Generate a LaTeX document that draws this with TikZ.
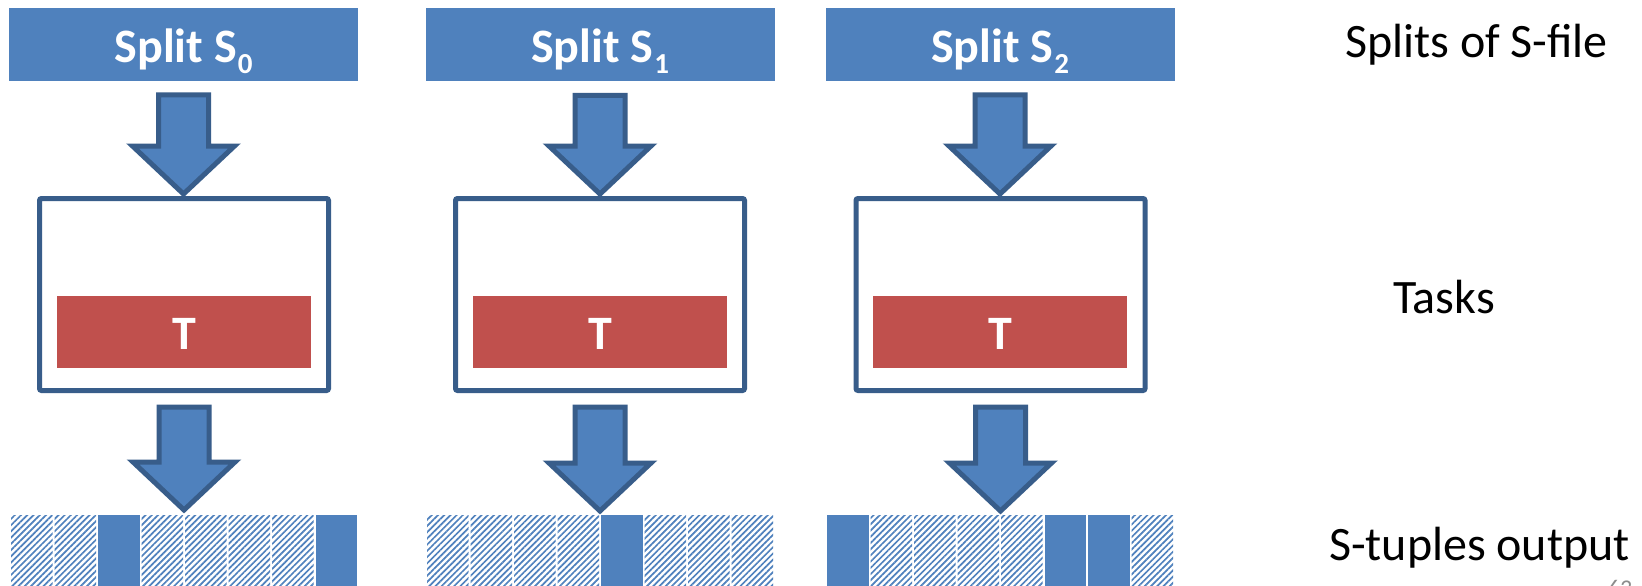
\documentclass[tikz,border=0pt]{standalone}
\usepackage{fontspec}
\setmainfont{Carlito}
\usetikzlibrary{calc,patterns.meta}
\definecolor{ublue}{HTML}{4F81BD}
\definecolor{ustroke}{HTML}{385D8A}
\definecolor{ured}{HTML}{C0504D}
\definecolor{pgnum}{HTML}{8C8C8C}
\newcommand\blockarr[2]{%
  \draw[blockarrow] let \p1=#1, \p2=#2 in
    (\x1-25pt,\y1) -- (\x1+25pt,\y1) -- (\x1+25pt,\y2+48pt) -- (\x1+51pt,\y2+48pt)
    -- (\x1,\y2) -- (\x1-51pt,\y2+48pt) -- (\x1-25pt,\y2+48pt) -- cycle;}
\newcommand\splitlabel[1]{Split S\kern1pt\raisebox{-11pt}{\fontsize{29}{29}\selectfont #1}}
\begin{document}
\begin{tikzpicture}[x=1pt,y=-1pt,
  splitbox/.style={fill=ublue, draw=none, minimum width=349pt, minimum height=73pt,
    inner sep=0pt, outer sep=0pt, text=white, font=\fontsize{48}{48}\selectfont\bfseries,
    text height=36pt, text depth=0pt},
  taskbox/.style={draw=ustroke, line width=5pt, fill=white, rounded corners=2pt,
    minimum width=289pt, minimum height=192pt, inner sep=0pt},
  tbox/.style={fill=ured, draw=none, minimum width=254pt, minimum height=72pt, inner sep=0pt,
    text=white, font=\fontsize{48}{48}\selectfont\bfseries, text height=34pt, text depth=0pt},
  blockarrow/.style={draw=ustroke, fill=ublue, line width=5pt, line join=miter},
  cellbase/.style={draw=none, minimum width=41.5pt, minimum height=85pt, inner sep=0pt, outer sep=0pt},
  ckh/.style={pattern={Lines[angle=45,distance=4.4pt,line width=1.7pt]}, pattern color=ublue},
  cks/.style={fill=ublue},
  sidelabel/.style={anchor=base west, inner sep=0pt, font=\fontsize{48}{48}\selectfont},
]
\useasboundingbox (0,0) rectangle (1642,586);
\fill[white] (0,0) rectangle (1642,586);

% split boxes
\node[splitbox] (s0) at (183.5,44.5) {\splitlabel{0}};
\node[splitbox] (s1) at (600,45) {\splitlabel{1}};
\node[splitbox] (s2) at (1000,44.5) {\splitlabel{2}};

% task boxes
\node[taskbox] (t0) at (184,294.5) {};
\node[taskbox] (t1) at (600,294.5) {};
\node[taskbox] (t2) at (1000.5,294.5) {};

% T boxes
\node[tbox] (r0) at (184,332) {T};
\node[tbox] (r1) at (600,332) {T};
\node[tbox] (r2) at (1000,332) {T};

% output strips
\coordinate (o0) at (184,515);
\coordinate (o1) at (600,515);
\coordinate (o2) at (1000,515);
\foreach \st [count=\i from 0] in {h,h,s,h,h,h,h,s}
  \node[cellbase, ck\st] (k0-\i) at ({10+43.5*\i+21.75},557.5) {};
\foreach \st [count=\i from 0] in {h,h,h,h,s,h,h,h}
  \node[cellbase, ck\st] (k1-\i) at ({426+43.5*\i+21.75},557.5) {};
\foreach \st [count=\i from 0] in {s,h,h,h,h,s,s,h}
  \node[cellbase, ck\st] (k2-\i) at ({826+43.5*\i+21.75},557.5) {};

% block arrows
\blockarr{($(s0.south)+(0,14)$)}{($(t0.north)+(0,-2)$)}
\blockarr{($(s1.south)+(0,14)$)}{($(t1.north)+(0,-2)$)}
\blockarr{($(s2.south)+(0,14)$)}{($(t2.north)+(0,-2)$)}
\blockarr{($(t0.south)+(0,14)$)}{($(o0)+(0,-5)$)}
\blockarr{($(t1.south)+(0,14)$)}{($(o1)+(0,-4)$)}
\blockarr{($(t2.south)+(0,14)$)}{($(o2)+(0,-4)$)}

% side labels
\node[sidelabel] (l1) at (1345,58) {Splits of S-file};
\node[sidelabel] (l2) at (1393,313) {Tasks};
\node[sidelabel] (l3) at (1329,560) {S-tuples output};
\node[anchor=base, inner sep=0pt, text=pgnum, font=\fontsize{24}{24}\selectfont] (pg) at (1620,596) {63};
\end{tikzpicture}
\end{document}
